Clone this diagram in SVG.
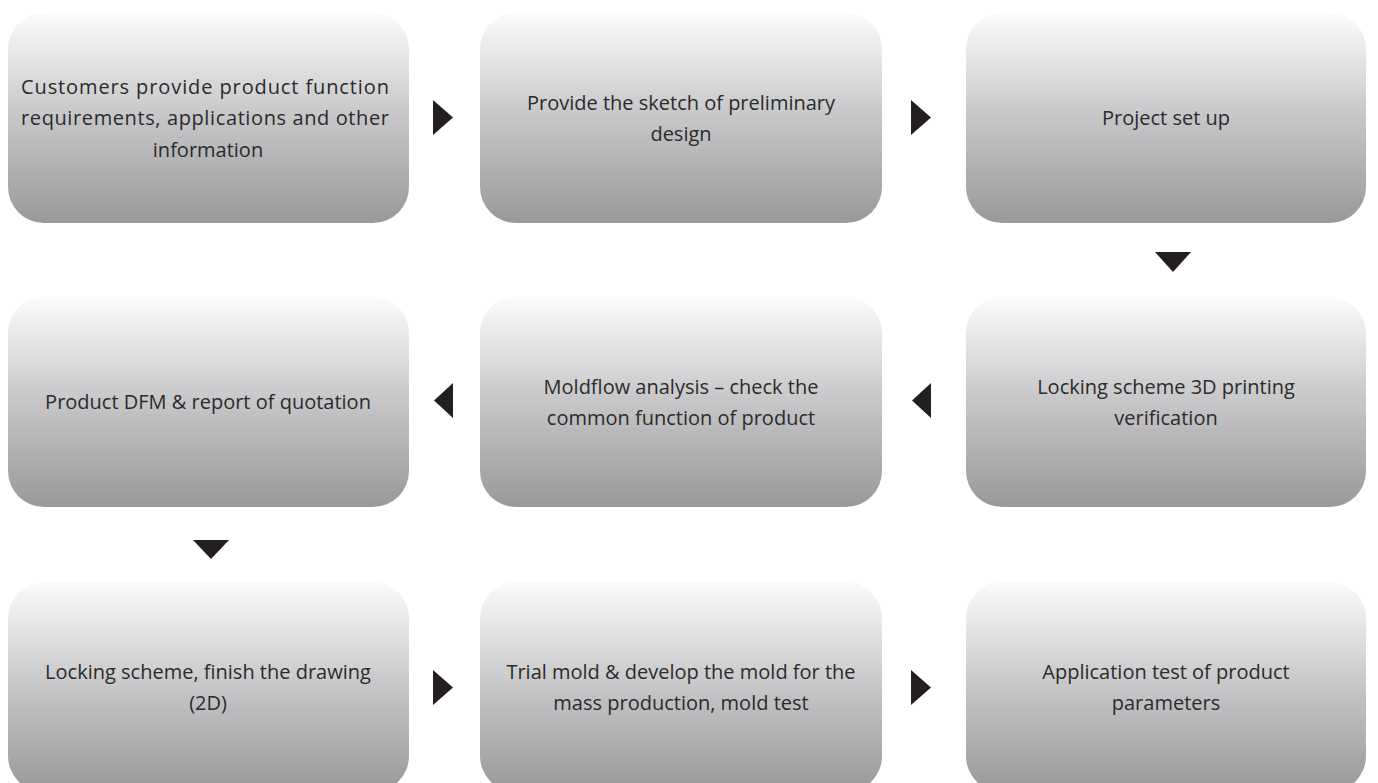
<svg xmlns="http://www.w3.org/2000/svg" width="1378" height="783" viewBox="0 0 1378 783">
<defs>
<linearGradient id="g" x1="0" y1="0" x2="0" y2="1">
<stop offset="0" stop-color="#fbfbfb"/>
<stop offset="0.5" stop-color="#c6c6c8"/>
<stop offset="1" stop-color="#98999b"/>
</linearGradient>
</defs>
<style>
.box{fill:url(#g);}
.t{font-family:"Open Sans","Noto Sans","Liberation Sans",sans-serif;font-size:20px;fill:#2b2b2b;text-anchor:middle;}
.arr{fill:#231f20;}
</style>
<rect width="1378" height="783" fill="#ffffff"/>
<g id="n1"><rect class="box" x="8" y="13" width="401" height="210" rx="36"/>
<text class="t" x="21" y="94" style="text-anchor:start" textLength="368" lengthAdjust="spacing">Customers provide product function</text>
<text class="t" x="21" y="125" style="text-anchor:start" textLength="368" lengthAdjust="spacing">requirements, applications and other</text>
<text class="t" x="208" y="157">information</text></g>
<g id="n2"><rect class="box" x="480" y="13" width="402" height="210" rx="36"/>
<text class="t" x="681" y="110">Provide the sketch of preliminary</text>
<text class="t" x="681" y="141">design</text></g>
<g id="n3"><rect class="box" x="966" y="13" width="400" height="210" rx="36"/>
<text class="t" x="1166" y="125">Project set up</text></g>
<g id="n4"><rect class="box" x="966" y="297" width="400" height="210" rx="36"/>
<text class="t" x="1166" y="394">Locking scheme 3D printing</text>
<text class="t" x="1166" y="425">verification</text></g>
<g id="n5"><rect class="box" x="480" y="297" width="402" height="210" rx="36"/>
<text class="t" x="681" y="394">Moldflow analysis – check the</text>
<text class="t" x="681" y="425">common function of product</text></g>
<g id="n6"><rect class="box" x="8" y="297" width="401" height="210" rx="36"/>
<text class="t" x="208" y="409">Product DFM &amp; report of quotation</text></g>
<g id="n7"><rect class="box" x="8" y="582" width="401" height="210" rx="36"/>
<text class="t" x="208" y="679">Locking scheme, finish the drawing</text>
<text class="t" x="208" y="710">(2D)</text></g>
<g id="n8"><rect class="box" x="480" y="582" width="402" height="210" rx="36"/>
<text class="t" x="681" y="679">Trial mold &amp; develop the mold for the</text>
<text class="t" x="681" y="710">mass production, mold test</text></g>
<g id="n9"><rect class="box" x="966" y="582" width="400" height="210" rx="36"/>
<text class="t" x="1166" y="679">Application test of product</text>
<text class="t" x="1166" y="710">parameters</text></g>
<g id="connectors">
<polygon class="arr" points="433,100 453,117.5 433,135"/>
<polygon class="arr" points="911,100 931,117.5 911,135"/>
<polygon class="arr" points="1155,252 1191,252 1173,272"/>
<polygon class="arr" points="931,383 912,400.5 931,418"/>
<polygon class="arr" points="453,383 434,400.5 453,418"/>
<polygon class="arr" points="193,540 229,540 211,559"/>
<polygon class="arr" points="433,670 453,687.5 433,705"/>
<polygon class="arr" points="911,670 931,687.5 911,705"/>
</g>
</svg>
